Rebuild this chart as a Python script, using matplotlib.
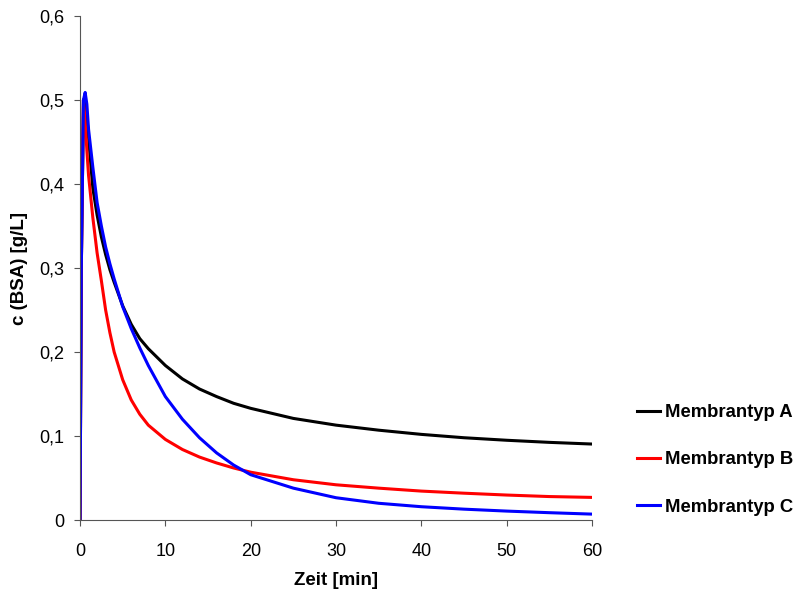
import numpy as np
import matplotlib.pyplot as plt

plt.rcParams['font.family'] = ['Liberation Sans', 'DejaVu Sans']

# Zeit [min]
t = [0, 0.15, 0.4, 0.6, 0.8, 1, 1.5, 2, 2.5, 3, 3.5, 4, 5, 6, 7, 8, 10, 12, 14,
     16, 18, 20, 25, 30, 35, 40, 45, 50, 55, 60]

# c (BSA) [g/L]
membran_a = [0, 0.30, 0.50, 0.503, 0.48, 0.455, 0.395, 0.363, 0.337, 0.316, 0.298,
             0.283, 0.255, 0.233, 0.216, 0.204, 0.184, 0.168, 0.156, 0.147, 0.139,
             0.133, 0.121, 0.113, 0.107, 0.102, 0.098, 0.095, 0.0925, 0.0905]
membran_b = [0, 0.30, 0.50, 0.475, 0.44, 0.41, 0.36, 0.318, 0.285, 0.250, 0.223,
             0.200, 0.167, 0.143, 0.126, 0.113, 0.096, 0.084, 0.075, 0.068, 0.062,
             0.057, 0.048, 0.042, 0.038, 0.0345, 0.032, 0.0298, 0.028, 0.027]
membran_c = [0, 0.30, 0.50, 0.509, 0.495, 0.465, 0.42, 0.378, 0.35, 0.325, 0.305,
             0.287, 0.254, 0.228, 0.205, 0.184, 0.147, 0.120, 0.098, 0.080, 0.0655,
             0.054, 0.038, 0.0266, 0.020, 0.0159, 0.013, 0.0107, 0.0088, 0.0071]

labels = ['Membrantyp A', 'Membrantyp B', 'Membrantyp C']
farben = ['black', '#ff0000', '#0000ff']

fig = plt.figure(figsize=(7.94, 5.91), dpi=100)
ax = fig.add_axes([0.1008, 0.120, 0.6448, 0.853])

for y, lab, c in zip([membran_a, membran_b, membran_c], labels, farben):
    ax.plot(t, y, color=c, lw=2.2, label=lab)

ax.set_xlim(0, 60)
ax.set_ylim(0, 0.6)
ax.set_xticks(np.arange(0, 61, 10))
yt = np.arange(0, 0.61, 0.1)
ax.set_yticks(yt)
ax.set_yticklabels(['0'] + [('%.1f' % v).replace('.', ',') for v in yt[1:]])

ax.spines['top'].set_visible(False)
ax.spines['right'].set_visible(False)
ax.spines['left'].set_color('#555555')
ax.spines['bottom'].set_color('#555555')
ax.tick_params(direction='out', length=4.5, color='#555555', labelsize=13)
ax.tick_params(axis='x', pad=12)
ax.tick_params(axis='y', pad=7)

ax.set_xlabel('Zeit [min]', fontsize=13.5, fontweight='bold', labelpad=9)
ax.set_ylabel('c (BSA) [g/L]', fontsize=13.5, fontweight='bold', labelpad=8)

fig.legend(*ax.get_legend_handles_labels(), loc='center left',
           bbox_to_anchor=(0.802, 0.2217), frameon=False, borderpad=0,
           borderaxespad=0, prop={'weight': 'bold', 'size': 13.3},
           labelspacing=1.65, handlelength=1.25, handletextpad=0.3)

fig.savefig('out.png', dpi=100)
